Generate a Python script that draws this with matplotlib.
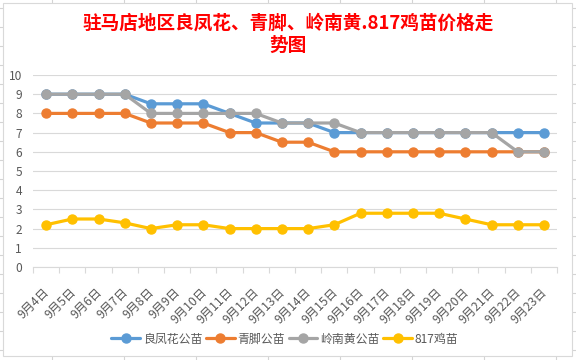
import matplotlib
matplotlib.use("Agg")
import matplotlib.pyplot as plt
import matplotlib.transforms as mtransforms
from matplotlib.lines import Line2D
from matplotlib.patches import Rectangle

plt.rcParams['font.family'] = ['Noto Sans CJK SC', 'DejaVu Sans']

dates = ["9月4日", "9月5日", "9月6日", "9月7日", "9月8日", "9月9日", "9月10日",
         "9月11日", "9月12日", "9月13日", "9月14日", "9月15日", "9月16日", "9月17日",
         "9月18日", "9月19日", "9月20日", "9月21日", "9月22日", "9月23日"]
lianghuafeng = [9, 9, 9, 9, 8.5, 8.5, 8.5, 8, 7.5, 7.5, 7.5, 7, 7, 7, 7, 7, 7, 7, 7, 7]
qingjiao = [8, 8, 8, 8, 7.5, 7.5, 7.5, 7, 7, 6.5, 6.5, 6, 6, 6, 6, 6, 6, 6, 6, 6]
lingnanhuang = [9, 9, 9, 9, 8, 8, 8, 8, 8, 7.5, 7.5, 7.5, 7, 7, 7, 7, 7, 7, 6, 6]
ji817 = [2.2, 2.5, 2.5, 2.3, 2.0, 2.2, 2.2, 2.0, 2.0, 2.0, 2.0, 2.2, 2.8, 2.8, 2.8, 2.8, 2.5, 2.2, 2.2, 2.2]
series_names = ["良凤花公苗", "青脚公苗", "岭南黄公苗", "817鸡苗"]
colors = ["#5B9BD5", "#ED7D31", "#A5A5A5", "#FFC000"]
title = "驻马店地区良凤花、青脚、岭南黄.817鸡苗价格走\n势图"

W, H = 576, 360
fig = plt.figure(figsize=(W / 100, H / 100), dpi=100)

def fx(px):
    return px / W

def fy(py):
    return 1 - py / H

# spreadsheet cell grid in background
grid_c = "#d4d4d4"
for k in range(0, 20):
    y = 8 + 19 * k
    fig.add_artist(Line2D([0, 1], [fy(y), fy(y)], color=grid_c, lw=0.8, zorder=0))
for k in range(0, 8):
    x = 51.5 + 72 * k
    fig.add_artist(Line2D([fx(x), fx(x)], [0, 1], color=grid_c, lw=0.8, zorder=0))

# chart area
fig.add_artist(Rectangle((fx(3), fy(356)), fx(572) - fx(3), fy(3) - fy(356),
                         facecolor="white", edgecolor="#d9d9d9", lw=0.8, zorder=1))

ax = fig.add_axes([fx(33), fy(267), fx(557) - fx(33), fy(75) - fy(267)])
ax.set_zorder(2)
ax.patch.set_alpha(0)

x = list(range(len(dates)))
for vals, name, c in zip([lianghuafeng, qingjiao, lingnanhuang, ji817], series_names, colors):
    ax.plot(x, vals, color=c, lw=2.3, marker="o", markersize=6.5, label=name,
            solid_capstyle="round", solid_joinstyle="round")

ax.set_xlim(-0.5, len(dates) - 0.5)
ax.set_ylim(0, 10)
ax.set_yticks(range(0, 11))
ax.grid(axis="y", color="#d9d9d9", lw=0.8)
ax.set_axisbelow(True)
for s in ["top", "right", "left"]:
    ax.spines[s].set_visible(False)
ax.spines["bottom"].set_color("#d9d9d9")
ax.spines["bottom"].set_linewidth(0.8)

ax.tick_params(axis="y", length=0, pad=8, labelsize=8.6, labelcolor="#595959")
ax.set_xticks(x)
ax.set_xticks([i - 0.5 for i in range(len(dates) + 1)], minor=True)
ax.tick_params(axis="x", which="major", length=0, pad=13, labelsize=8.8, labelcolor="#595959")
ax.tick_params(axis="x", which="minor", length=4, color="#d9d9d9", width=0.8)
ax.set_xticklabels(dates, rotation=45, ha="right", va="top")
offset = mtransforms.ScaledTranslation(6 / 100, 0, fig.dpi_scale_trans)
for lbl in ax.get_xticklabels():
    lbl.set_transform(lbl.get_transform() + offset)

fig.text(fx(288), fy(34), title, ha="center", va="center", color="#FF0000",
         fontsize=13.4, fontweight="bold", linespacing=1.25)

fig.legend(loc="center", bbox_to_anchor=(fx(285), fy(339)), ncol=4, frameon=False,
           fontsize=8.6, handlelength=2.4, handletextpad=0.25, columnspacing=0.3,
           labelcolor="#595959")

fig.savefig("out.png", dpi=100)
